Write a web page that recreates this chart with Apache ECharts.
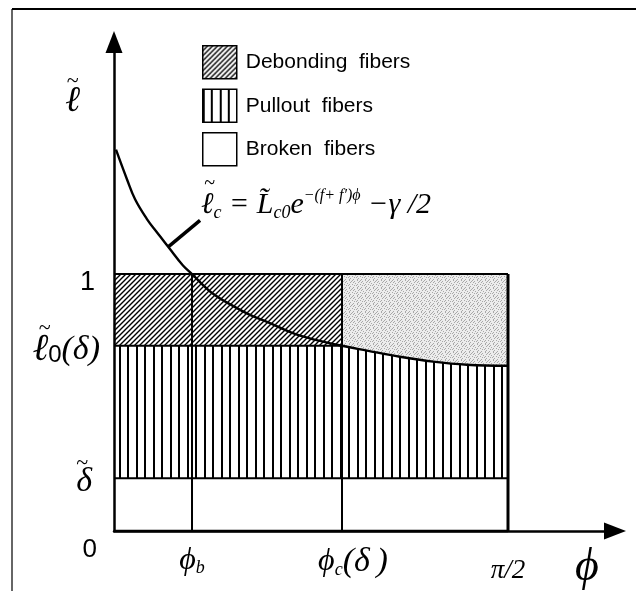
<!DOCTYPE html>
<html>
<head>
<meta charset="utf-8">
<script src="https://cdn.jsdelivr.net/npm/echarts@6/dist/echarts.min.js"></script>
<style>
  html, body { margin: 0; padding: 0; background: #fff; }
  #chart { width: 636px; height: 591px; }
</style>
</head>
<body>
<div id="chart"></div>
<script>
// ---- values (φ on the horizontal axis, normalised length ℓ on the vertical) ----
const xTickValues = [0.311, 0.909, 1.5708];            // ϕb, ϕc(δ), π/2
const xTickLabels = ['{phi|ϕ}{sub|b}', '{phic|ϕ}{sub|c}{ser|(δ\u2009)}', '{pi|π/2}'];
const yTickValues = [0, 0.205, 0.721, 1];               // 0, δ̃, ℓ̃0(δ), 1
const yTickLabels = ['{zero|0}', '{tdel|~}\n{del|δ}', '{tell|~}\n{ell|ℓ}{sub0|0}{ser|(δ)}', '{one|1}'];
const axisMax = [1.9974, 1.903];                        // arrow ends of φ and ℓ axes

// critical length curve ℓ̃c(φ)
const curvePhi = [0.008, 0.052, 0.084, 0.132, 0.171, 0.223, 0.275, 0.311, 0.391, 0.474,
                  0.542, 0.610, 0.742, 0.909, 1.009, 1.140, 1.272, 1.407, 1.5708];
const curveEll = [1.484, 1.368, 1.291, 1.213, 1.163, 1.097, 1.033, 1.000, 0.926, 0.876,
                  0.841, 0.814, 0.760, 0.721, 0.702, 0.678, 0.659, 0.647, 0.643];

// pointer from the curve to its equation
const leaderPhi = [0.215, 0.343];
const leaderEll = [1.105, 1.209];

const legendNames = ['Debonding fibers', 'Pullout fibers', 'Broken fibers'];

// ---- fill textures ----
function makeCanvas(w, h, bg) {
  const c = document.createElement('canvas');
  c.width = w; c.height = h;
  const g = c.getContext('2d');
  g.fillStyle = bg; g.fillRect(0, 0, w, h);
  return [c, g];
}
function diagonalHatch() {
  const [c, g] = makeCanvas(5, 5, '#fff');
  g.strokeStyle = '#000'; g.lineWidth = 1.4;
  g.beginPath();
  g.moveTo(-1, 6); g.lineTo(6, -1);
  g.moveTo(-1, 1); g.lineTo(1, -1);
  g.moveTo(4, 6); g.lineTo(6, 4);
  g.stroke();
  return { image: c, repeat: 'repeat' };
}
function verticalStripes() {
  const [c, g] = makeCanvas(17, 4, '#fff');
  g.fillStyle = '#000';
  g.fillRect(0, 0, 2, 4);
  g.fillRect(8, 0, 2, 4);
  return { image: c, repeat: 'repeat' };
}
function stipple() {
  const rows = ['10000100', '00100001', '01000010', '00010000',
                '10000100', '00101000', '00000010', '01000100'];
  const [c, g] = makeCanvas(8, 8, '#ececec');
  g.fillStyle = '#a8a8a8';
  rows.forEach((r, y) => r.split('').forEach((b, x) => { if (b === '1') g.fillRect(x, y, 1, 1); }));
  return { image: c, repeat: 'repeat' };
}
const hatchFill = diagonalHatch();
const stripeFill = verticalStripes();
const stippleFill = stipple();

// ---- derived geometry ----
const phiB = xTickValues[0], phiC = xTickValues[1], halfPi = xTickValues[2];
const delta = yTickValues[1], ell0 = yTickValues[2], one = yTickValues[3];
const curve = curvePhi.map((p, i) => [p, curveEll[i]]);
const tail = curve.filter(p => p[0] >= phiC);

const pulloutPoly = [[0, delta], [0, ell0]].concat(tail, [[halfPi, delta]]);
const stipplePoly = [[phiC, one], [halfPi, one]].concat(tail.slice().reverse());

const segments = [
  [0, one, halfPi, one, 2],
  [0, ell0, phiC, ell0, 2],
  [0, delta, halfPi, delta, 2],
  [0, 0, halfPi, 0, 2.5],
  [phiB, 0, phiB, one, 2],
  [phiC, 0, phiC, one, 2],
  [halfPi, 0, halfPi, one, 3]
];

function polygonSeries(name, poly, fill) {
  return {
    name: name, type: 'custom', z: 2, silent: true,
    itemStyle: { color: fill },
    data: [0],
    renderItem: function (params, api) {
      return {
        type: 'polygon',
        shape: { points: poly.map(p => api.coord(p)) },
        style: { fill: fill }
      };
    }
  };
}
function rectPoly(x0, x1, y0, y1) {
  return [[x0, y0], [x0, y1], [x1, y1], [x1, y0]];
}

const serif = 'Liberation Serif';
const sans = 'Liberation Sans';
const black = '#000';
function it(size, extra) {
  return Object.assign({ fontFamily: serif, fontStyle: 'italic', fontSize: size, color: black }, extra || {});
}

const chart = echarts.init(document.getElementById('chart'), null, { renderer: 'canvas' });
chart.setOption({
  backgroundColor: '#fff',
  animation: false,
  grid: { left: 114, right: 21, top: 42, bottom: 58 },
  legend: {
    data: legendNames,
    orient: 'vertical',
    left: 202, top: 45, padding: 0,
    itemWidth: 34, itemHeight: 33, itemGap: 9,
    icon: 'rect',
    selectedMode: false,
    itemStyle: { borderColor: black, borderWidth: 1.5 },
    formatter: n => n.replace(' ', '  '),
    textStyle: { fontFamily: sans, fontSize: 21, color: black, padding: [0, 0, 0, 4] }
  },
  xAxis: {
    type: 'value', min: 0, max: axisMax[0], z: 5,
    name: '{p|ϕ}', nameLocation: 'end', nameGap: -40,
    nameTextStyle: { align: 'left', verticalAlign: 'middle',
                     rich: { p: it(46, { padding: [74, 0, 0, 0] }) } },
    axisLine: { show: true, symbol: ['none', 'triangle'], symbolSize: [17, 22],
                lineStyle: { color: black, width: 2.5 } },
    axisTick: { show: false },
    splitLine: { show: false },
    axisLabel: {
      customValues: xTickValues,
      margin: 14,
      formatter: v => xTickLabels[xTickValues.indexOf(v)],
      rich: {
        phi: it(32),
        phic: it(32, { padding: [0, 0, 0, 22] }),
        sub: it(18, { verticalAlign: 'bottom' }),
        ser: it(34),
        pi: it(27, { padding: [12, 0, 0, 0] })
      }
    }
  },
  yAxis: {
    type: 'value', min: 0, max: axisMax[1], z: 5,
    name: '{t|~}\n{l|ℓ}', nameLocation: 'end', nameGap: -56,
    nameTextStyle: { align: 'right', verticalAlign: 'middle', padding: [0, 34, 0, 0],
                     rich: { t: it(22, { lineHeight: 8, align: 'center' }), l: it(36, { lineHeight: 34 }) } },
    axisLine: { show: true, symbol: ['none', 'triangle'], symbolSize: [17, 22],
                lineStyle: { color: black, width: 2.5 } },
    axisTick: { show: false },
    splitLine: { show: false },
    axisLabel: {
      customValues: yTickValues,
      margin: 14,
      formatter: v => yTickLabels[yTickValues.indexOf(v)],
      rich: {
        zero: { fontFamily: sans, fontSize: 26, color: black, padding: [38, 3, 0, 0] },
        one: { fontFamily: sans, fontSize: 27, color: black, padding: [18, 5, 0, 0] },
        tdel: it(22, { lineHeight: 8, align: 'right', padding: [0, 12, 0, 0] }),
        del: it(34, { lineHeight: 30, padding: [0, 8, 0, 0] }),
        tell: it(22, { lineHeight: 8, align: 'left', padding: [0, 0, 0, 6] }),
        ell: it(38, { lineHeight: 30 }),
        sub0: { fontFamily: sans, fontSize: 24, color: black, verticalAlign: 'bottom', padding: [12, 0, 0, 0] },
        ser: it(34, { lineHeight: 30 })
      }
    }
  },
  graphic: [
    { type: 'line', shape: { x1: 12, y1: 9, x2: 12, y2: 591 }, style: { stroke: '#666', lineWidth: 2 } },
    { type: 'line', shape: { x1: 12, y1: 9, x2: 636, y2: 9 }, style: { stroke: black, lineWidth: 2 } },
    {
      type: 'text', left: 201, top: 174, z: 10,
      style: {
        text: '{tl|~}\n{i|ℓ}{sub|c}{i| = }{i|L̃}{sub|c0}{i|e}{sup|−(f+ f′)ϕ}{i| −γ /2}',
        rich: {
          tl: { fontFamily: serif, fontStyle: 'italic', fontSize: 20, fill: black, lineHeight: 8, align: 'left', padding: [0, 0, 0, 3] },
          i: { fontFamily: serif, fontStyle: 'italic', fontSize: 30, fill: black, lineHeight: 34 },
          sub: { fontFamily: serif, fontStyle: 'italic', fontSize: 18, fill: black, verticalAlign: 'bottom', lineHeight: 34 },
          sup: { fontFamily: serif, fontStyle: 'italic', fontSize: 16, fill: black, verticalAlign: 'top', lineHeight: 34 }
        }
      }
    }
  ],
  series: [
    polygonSeries('Broken fibers', rectPoly(0, halfPi, 0, delta), '#fff'),
    polygonSeries('Pullout fibers', pulloutPoly, stripeFill),
    polygonSeries('Debonding fibers', rectPoly(0, phiC, ell0, one), hatchFill),
    polygonSeries('stippled', stipplePoly, stippleFill),
    {
      name: 'edges', type: 'custom', z: 3, silent: true,
      data: segments,
      renderItem: function (params, api) {
        const a = api.coord([api.value(0), api.value(1)]);
        const b = api.coord([api.value(2), api.value(3)]);
        return { type: 'line', shape: { x1: a[0], y1: a[1], x2: b[0], y2: b[1] },
                 style: { stroke: black, lineWidth: api.value(4) } };
      }
    },
    {
      name: 'critical length', type: 'line', z: 4, silent: true,
      data: curve, showSymbol: false, symbol: 'none',
      smooth: 0.4,
      lineStyle: { color: black, width: 2.4 }
    },
    {
      name: 'pointer', type: 'line', z: 4, silent: true,
      data: leaderPhi.map((p, i) => [p, leaderEll[i]]), showSymbol: false, symbol: 'none',
      lineStyle: { color: black, width: 3.5 }
    }
  ]
});
</script>
</body>
</html>
